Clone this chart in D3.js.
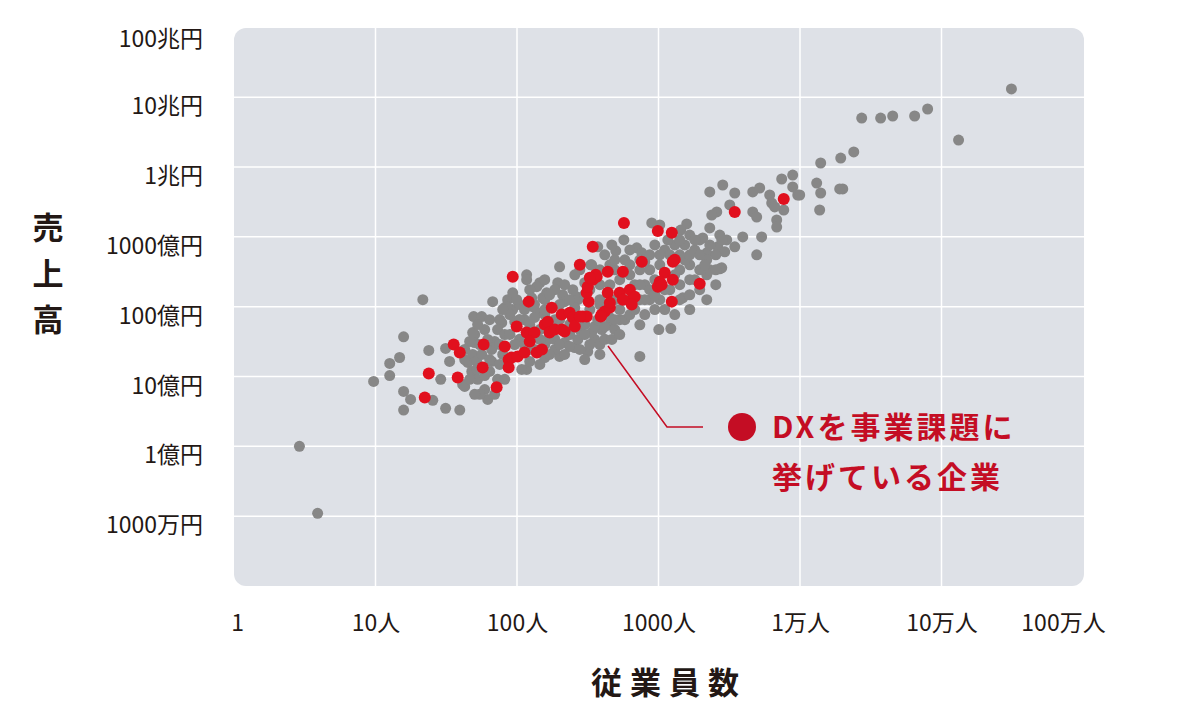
<!DOCTYPE html>
<meta charset="utf-8">
<style>
  body { margin: 0; background: #fff; }
  svg text { font-family: "Noto Sans CJK JP", "Noto Sans", sans-serif; }
  .axis path.domain, .axis line { display: none; }
  .axis text { font-size: 23px; fill: #231815; }
  .grid line { stroke: #fff; stroke-width: 1.5; }
  .axis-title { font-size: 31px; font-weight: 700; fill: #231815; }
  .note { font-size: 30px; font-weight: 700; fill: #c40d24; letter-spacing: 3px; }
</style>
<body></body>
<script src="https://cdn.jsdelivr.net/npm/d3@7"></script>
<script>

// employees (人), sales (億円)
var otherCompanies = [
  [2.9, 1.0], [3.9, 0.11], [9.7, 8.5], [12.6, 15.4], [12.6, 10.3], [14.8, 18.7],
  [15.8, 37], [15.8, 6.1], [15.8, 3.3], [17.7, 4.7], [25.4, 4.55], [21.6, 126],
  [23.8, 23.6], [28.9, 9.1], [31.3, 25.2], [31.3, 3.5], [33.4, 16.4], [39.4, 3.3],
  [41.3, 7.7],
  [49.4, 72], [50.2, 40], [50.2, 30.6], [46.3, 31.7], [42.7, 24.4], [48.6, 20.7],
  [44.9, 15.9], [47.9, 11.8], [42.7, 7.2], [52.7, 9.1], [59.1, 6.5], [62.1, 4.7],
  [72.9, 9.1], [66.2, 24.4], [69.5, 31.7], [66.2, 16.4], [56.3, 72], [67.3, 118],
  [78, 59], [72.9, 47], [85.9, 126], [93.3, 91], [81.9, 97], [48.6, 42.6],
  [79.3, 20.7], [54.5, 5.55], [51.9, 16.4], [56.3, 20.7], [64.1, 11.8], [69.5, 5.55],
  [81.9, 9.1], [46.3, 9.1], [59.1, 47], [64.1, 65], [54.5, 28.7], [51.9, 12.6],
  [52.7, 55.5], [62.1, 33.9], [75.5, 28.7], [81.9, 39.9], [64.1, 17.5], [75.5, 14.9],
  [59.1, 10.3], [50.2, 5.55], [42.7, 17.5],
  [117, 286], [117, 243], [145, 220], [138, 193], [194, 220], [278, 337], [200, 372],
  [332, 397], [93.3, 158], [162, 158], [152, 134], [210, 148], [248, 175], [264, 139],
  [84.6, 100], [104, 107], [129, 100], [88.9, 77], [133, 107], [157, 126], [217, 118],
  [269, 126], [140, 82], [117, 12.6], [108, 12.6], [200, 19.4], [157, 18.7], [256, 26],
  [316, 22.8], [354, 33.9], [337, 42.6], [397, 47], [354, 52], [217, 30.6], [185, 24.4],
  [269, 33.9], [236, 26.9], [79.3, 91], [96.4, 61], [104, 34], [185, 34], [157, 28.7],
  [123, 16.4], [145, 14.9], [96.4, 28.7], [278, 47], [385, 28.7], [453, 55], [301, 17.5],
  [417, 34], [738, 19.4],
  [113, 65], [133, 70], [165, 34], [200, 65], [256, 97], [327, 91], [385, 107],
  [491, 47], [532, 65], [145, 47], [123, 55], [89, 40],
  [113, 28.7], [133, 24.4], [170, 20.7], [217, 20.7], [278, 24.4], [327, 28.7],
  [301, 39.9], [236, 39.9], [200, 28.7], [145, 33.9], [113, 90.6], [157, 77],
  [185, 65], [301, 55.5], [372, 65], [417, 51.9], [236, 126], [301, 148], [185, 175],
  [123, 175], [99.5, 126], [75.5, 65.3], [468, 33.9], [532, 39.9], [385, 20.7],
  [104, 65.3], [127, 134], [170, 148], [217, 206], [256, 286], [157, 243], [301, 220],
  [200, 107], [327, 175], [157, 90.6], [236, 55.5], [123, 24.4], [453, 69.7], [532, 91],
  [372, 718], [569, 903], [499, 630], [337, 397], [702, 695], [762, 590], [896, 1580],
  [1021, 1480], [1582, 1530], [1484, 134], [2193, 126], [2799, 360], [942, 91],
  [1005, 47], [1222, 48.5], [2624, 718], [2938, 610], [3035, 903], [1436, 1250],
  [1955, 903], [2055, 964], [2193, 590], [2193, 469], [2710, 348], [2193, 286],
  [738, 337], [867, 337], [800, 206], [738, 126], [578, 65], [627, 77], [800, 77],
  [1021, 126], [1107, 91], [1662, 397], [1804, 650], [1662, 243], [1955, 337],
  [2303, 766], [1532, 766], [1303, 766], [1107, 650], [867, 552], [679, 206], [532, 243],
  [491, 65], [738, 55], [385, 126], [453, 206], [942, 766], [1413, 206], [1662, 148],
  [1202, 175], [417, 552], [578, 469], [453, 397], [1021, 397], [867, 175],
  [627, 286], [800, 439], [1413, 337], [1804, 243], [1955, 552], [1532, 469],
  [1202, 552], [2540, 552], [942, 243], [491, 126], [385, 206], [491, 337], [627, 397],
  [738, 206], [867, 126], [1107, 175], [1413, 126], [1662, 91], [1303, 77], [2540, 206],
  [2303, 337], [1413, 903], [1662, 1060],
  [578, 126], [679, 91], [800, 126], [942, 148], [1021, 552], [1303, 286], [1662, 552],
  [2123, 397], [1955, 175], [2540, 337], [1413, 552], [1804, 903], [1164, 903],
  [738, 469], [627, 650], [491, 469], [468, 766], [385, 337],
  [2303, 4390], [2844, 5520], [3459, 4240], [4634, 4390], [5188, 5000], [6109, 3970],
  [7425, 6730], [8880, 7670], [8880, 5170], [9638, 3970], [13120, 5890], [13770, 2420],
  [7674, 2420], [3189, 2860], [2581, 2270], [2378, 2050], [4634, 2270], [4943, 1920],
  [6310, 3050], [6627, 2680], [6846, 1740], [6846, 1380], [5358, 997], [3939, 997],
  [2710, 1060], [2799, 903], [2303, 1340], [3459, 718], [4943, 552],
  [14000, 11400], [19400, 13400], [23990, 16400], [27300, 50200], [37150, 50200],
  [45200, 53700], [64600, 53700], [79800, 67600], [312000, 130900], [132000, 24300],
  [14000, 4240], [20050, 4840], [19080, 4840], [9953, 3970]
];

var dxCompanies = [
  [23.8, 11.0], [22.3, 5.0], [35.7, 28.7], [39.4, 22.1], [38.1, 9.7], [58.1, 28.7],
  [57.2, 13.5], [71.8, 7.0], [81.9, 26.9], [87.3, 17.5], [87.3, 13.5], [91.8, 18.7],
  [99.5, 51.9], [101, 19.4], [113, 22.1], [117, 42.6], [133, 42.6], [123, 31.7],
  [138, 22.1], [150, 24.4], [157, 55.5], [165, 61], [170, 42.6], [185, 47], [207, 47],
  [217, 44], [176, 96.8], [207, 77], [236, 82], [248, 69.7], [292, 72], [311, 72],
  [256, 51.9], [93.3, 268], [121, 118], [321, 118], [397, 77], [417, 85], [453, 97],
  [278, 72], [438, 158], [532, 158], [627, 175], [647, 126], [560, 126], [311, 158],
  [316, 193], [343, 243], [366, 268], [278, 397], [343, 718], [438, 316], [560, 316],
  [570, 1580], [762, 439], [989, 1210], [1242, 1140], [1303, 469], [1262, 439],
  [1107, 306], [1262, 243], [1021, 227], [989, 193], [1054, 206], [1955, 213],
  [1242, 118], [3459, 2270], [7674, 3480], [360, 286], [327, 259], [679, 139],
  [647, 107], [453, 114], [391, 72]
];

var xTickValues = [1, 10, 100, 1000, 1e4, 1e5, 1e6];
var xTickLabels = ["1", "10人", "100人", "1000人", "1万人", "10万人", "100万人"];
var yTickValues = [0.1, 1, 10, 100, 1000, 1e4, 1e5, 1e6];
var yTickLabels = ["1000万円", "1億円", "10億円", "100億円", "1000億円", "1兆円", "10兆円", "100兆円"];

var width = 1200, height = 712;
var plot = {left: 234, right: 1083, top: 27.3, bottom: 586};

var svg = d3.select("body").append("svg")
    .attr("width", width)
    .attr("height", height);

var x = d3.scaleLog().domain([1, 1e6]).range([plot.left, plot.right]);
var y = d3.scaleLog().domain([0.01, 1e6]).range([plot.bottom, plot.top]);

svg.append("rect")
    .attr("x", plot.left)
    .attr("y", 28)
    .attr("width", plot.right + 1 - plot.left)
    .attr("height", plot.bottom - 28)
    .attr("rx", 12)
    .attr("fill", "#dee1e7");

var grid = svg.append("g").attr("class", "grid");
grid.selectAll("line.gx")
    .data(xTickValues.slice(1, -1))
    .enter().append("line")
    .attr("class", "gx")
    .attr("x1", x).attr("x2", x)
    .attr("y1", 28).attr("y2", plot.bottom);
grid.selectAll("line.gy")
    .data(yTickValues.slice(0, -1))
    .enter().append("line")
    .attr("class", "gy")
    .attr("x1", plot.left).attr("x2", plot.right + 1)
    .attr("y1", y).attr("y2", y);

// axes (labels only)
var xaxis = d3.axisBottom(x)
    .tickValues(xTickValues)
    .tickFormat(function(d, i) { return xTickLabels[i]; })
    .tickSize(0)
    .tickPadding(29);

var gx = svg.append("g")
    .attr("class", "axis")
    .attr("transform", "translate(0," + plot.bottom + ")")
    .call(xaxis);
gx.attr("font-family", null).attr("font-size", null);
gx.selectAll("text")
    .attr("dx", function(d) { return d == 1 ? 3 : d == 1e6 ? -20 : 0; });

var yaxis = d3.axisLeft(y)
    .tickValues(yTickValues)
    .tickFormat(function(d, i) { return yTickLabels[i]; })
    .tickSize(0)
    .tickPadding(0);

var gy = svg.append("g")
    .attr("class", "axis")
    .attr("transform", "translate(203,0)")
    .call(yaxis);
gy.attr("font-family", null).attr("font-size", null);
gy.selectAll("text")
    .attr("dy", function(d) { return d == 1e6 ? "0.82em" : "0.72em"; });

// points
svg.append("g").selectAll("circle")
    .data(otherCompanies)
    .enter().append("circle")
    .attr("cx", function(d) { return x(d[0]); })
    .attr("cy", function(d) { return y(d[1]); })
    .attr("r", 5.5)
    .attr("fill", "#878787");

svg.append("g").selectAll("circle")
    .data(dxCompanies)
    .enter().append("circle")
    .attr("cx", function(d) { return x(d[0]); })
    .attr("cy", function(d) { return y(d[1]); })
    .attr("r", 6)
    .attr("fill", "#e1101e");

// axis titles
var yt = svg.append("text")
    .attr("class", "axis-title")
    .attr("text-anchor", "middle");
yt.selectAll("tspan")
    .data(["売", "上", "高"])
    .enter().append("tspan")
    .attr("x", 48)
    .attr("y", function(d, i) { return 239 + i * 46; })
    .text(function(d) { return d; });

svg.append("text")
    .attr("class", "axis-title")
    .attr("text-anchor", "middle")
    .attr("x", 669)
    .attr("y", 694)
    .style("letter-spacing", "8px")
    .text("従業員数");

// annotation
var noteColor = "#c40d24";
svg.append("path")
    .attr("d", d3.line()([[608, 346], [667, 427], [703, 427]]))
    .attr("fill", "none")
    .attr("stroke", noteColor)
    .attr("stroke-width", 1.5);

svg.append("circle")
    .attr("cx", 742)
    .attr("cy", 427)
    .attr("r", 14)
    .attr("fill", noteColor);

svg.append("text").attr("class", "note")
    .attr("x", 772).attr("y", 438)
    .text("DXを事業課題に");
svg.append("text").attr("class", "note")
    .attr("x", 772).attr("y", 488)
    .text("挙げている企業");

</script>
